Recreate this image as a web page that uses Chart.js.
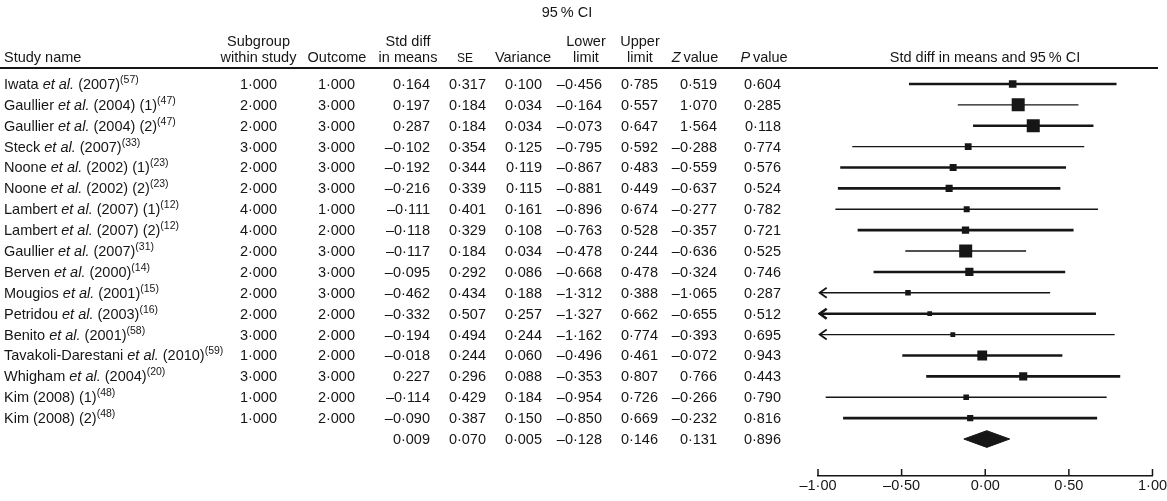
<!DOCTYPE html>
<html>
<head>
<meta charset="utf-8">
<title>Std diff in means and 95% CI</title>
<script src="https://cdn.jsdelivr.net/npm/chart.js@4.4.0/dist/chart.umd.min.js"></script>
<style>
  html, body { margin: 0; padding: 0; background: #fff; }
  #wrap { position: relative; width: 1167px; height: 501px; }
</style>
</head>
<body>
<div id="wrap"><canvas id="forest" width="1167" height="501"></canvas></div>
<script>
// Study rows (top to bottom)
const studyNames = [
    'Iwata et al. (2007)', 'Gaullier et al. (2004) (1)', 'Gaullier et al. (2004) (2)',
    'Steck et al. (2007)', 'Noone et al. (2002) (1)', 'Noone et al. (2002) (2)',
    'Lambert et al. (2007) (1)', 'Lambert et al. (2007) (2)', 'Gaullier et al. (2007)',
    'Berven et al. (2000)', 'Mougios et al. (2001)', 'Petridou et al. (2003)',
    'Benito et al. (2001)', 'Tavakoli-Darestani et al. (2010)', 'Whigham et al. (2004)',
    'Kim (2008) (1)', 'Kim (2008) (2)'
];
const refNumbers = ['57', '47', '47', '33', '23', '23', '12', '12', '31', '14', '15', '16', '58', '59', '20', '48', '48'];
const subgroup = [1, 2, 2, 3, 2, 2, 4, 4, 2, 2, 2, 2, 3, 1, 3, 1, 1];
const outcome = [1, 3, 3, 3, 3, 3, 1, 2, 3, 3, 3, 2, 2, 2, 3, 2, 2];
const stdDiff = [0.164, 0.197, 0.287, -0.102, -0.192, -0.216, -0.111, -0.118, -0.117, -0.095, -0.462, -0.332, -0.194, -0.018, 0.227, -0.114, -0.090];
const stdErr = [0.317, 0.184, 0.184, 0.354, 0.344, 0.339, 0.401, 0.329, 0.184, 0.292, 0.434, 0.507, 0.494, 0.244, 0.296, 0.429, 0.387];
const variance = [0.100, 0.034, 0.034, 0.125, 0.119, 0.115, 0.161, 0.108, 0.034, 0.086, 0.188, 0.257, 0.244, 0.060, 0.088, 0.184, 0.150];
const lowerLimit = [-0.456, -0.164, -0.073, -0.795, -0.867, -0.881, -0.896, -0.763, -0.478, -0.668, -1.312, -1.327, -1.162, -0.496, -0.353, -0.954, -0.850];
const upperLimit = [0.785, 0.557, 0.647, 0.592, 0.483, 0.449, 0.674, 0.528, 0.244, 0.478, 0.388, 0.662, 0.774, 0.461, 0.807, 0.726, 0.669];
const zValue = [0.519, 1.070, 1.564, -0.288, -0.559, -0.637, -0.277, -0.357, -0.636, -0.324, -1.065, -0.655, -0.393, -0.072, 0.766, -0.266, -0.232];
const pValue = [0.604, 0.285, 0.118, 0.774, 0.576, 0.524, 0.782, 0.721, 0.525, 0.746, 0.287, 0.512, 0.695, 0.943, 0.443, 0.790, 0.816];

// Pooled estimate
const pooled = [0.009, 0.070, 0.005, -0.128, 0.146, 0.131, 0.896];

const xTicks = [-1, -0.5, 0, 0.5, 1];

const ink = '#161616';
const FONT = '"Liberation Sans", Arial, Helvetica, sans-serif';
const summaryRow = studyNames.length;
// line weight of each CI line in the original figure
const ciWidths = [2.6, 1.4, 2.6, 1.4, 2.6, 2.6, 1.4, 2.6, 1.4, 2.6, 1.4, 2.6, 1.4, 2.6, 2.6, 1.4, 2.6];

function fmt(v, d) {
    return v.toFixed(d === undefined ? 3 : d).replace('.', '\u00b7').replace('-', '\u2013');
}
function font(size, italic) {
    return (italic ? 'italic ' : '') + size + 'px ' + FONT;
}

const datasets = [];

// point estimates, square size from study weight
datasets.push({
    data: stdDiff.map((v, i) => ({ x: v, y: i })),
    pointStyle: 'rect',
    pointRadius: ctx => 2.4 / Math.sqrt(variance[ctx.dataIndex]) / Math.SQRT2,
    backgroundColor: ink,
    borderWidth: 0,
    order: 0
});

// confidence intervals
stdDiff.forEach((v, i) => {
    datasets.push({
        data: [{ x: Math.max(lowerLimit[i], -0.99), y: i }, { x: Math.min(upperLimit[i], 0.99), y: i }],
        showLine: true,
        pointRadius: 0,
        borderColor: ink,
        borderWidth: ciWidths[i],
        order: 1
    });
    if (lowerLimit[i] < -1) {
        datasets.push({
            data: [{ x: -0.948, y: i - 0.24 }, { x: -0.99, y: i }, { x: -0.948, y: i + 0.24 }],
            showLine: true,
            pointRadius: 0,
            borderColor: ink,
            borderWidth: ciWidths[i] > 2 ? 2.6 : 1.8,
            order: 1
        });
    }
});

// pooled diamond
datasets.push({
    data: [
        { x: pooled[3], y: summaryRow },
        { x: pooled[0], y: summaryRow - 0.4 },
        { x: pooled[4], y: summaryRow },
        { x: pooled[0], y: summaryRow + 0.4 },
        { x: pooled[3], y: summaryRow }
    ],
    showLine: true,
    fill: 'shape',
    pointRadius: 0,
    borderColor: ink,
    borderWidth: 1,
    backgroundColor: ink,
    tension: 0,
    order: 1
});

function drawParts(ctx, x, y, parts, align) {
    let total = 0;
    parts.forEach(p => { ctx.font = p.font; total += ctx.measureText(p.text).width; });
    if (align === 'center') x -= total / 2;
    if (align === 'right') x -= total;
    ctx.textAlign = 'left';
    parts.forEach(p => {
        ctx.font = p.font;
        ctx.fillText(p.text, x, y + (p.dy || 0));
        x += ctx.measureText(p.text).width;
    });
}

function nameParts(name, ref) {
    const parts = [];
    const k = name.indexOf('et al.');
    if (k >= 0) {
        parts.push({ text: name.slice(0, k), font: font(14.5) });
        parts.push({ text: 'et al.', font: font(14.5, true) });
        parts.push({ text: name.slice(k + 6), font: font(14.5) });
    } else {
        parts.push({ text: name, font: font(14.5) });
    }
    parts.push({ text: '(' + ref + ')', font: font(10.5), dy: -6 });
    return parts;
}

const tablePlugin = {
    id: 'forestTable',
    afterDraw(chart) {
        const ctx = chart.ctx;
        const yScale = chart.scales.y;
        const xScale = chart.scales.x;
        ctx.save();
        ctx.fillStyle = ink;
        ctx.strokeStyle = ink;
        ctx.textBaseline = 'alphabetic';

        const h1 = 46, h2 = 62;
        const plain = t => [{ text: t, font: font(14.5) }];
        drawParts(ctx, 567, 17, plain('95\u2009% CI'), 'center');
        drawParts(ctx, 4, h2, plain('Study name'), 'left');
        drawParts(ctx, 258.5, h1, plain('Subgroup'), 'center');
        drawParts(ctx, 258.5, h2, plain('within study'), 'center');
        drawParts(ctx, 337, h2, plain('Outcome'), 'center');
        drawParts(ctx, 408, h1, plain('Std diff'), 'center');
        drawParts(ctx, 408, h2, plain('in means'), 'center');
        drawParts(ctx, 465, h2, [{ text: 'SE', font: font(12) }], 'center');
        drawParts(ctx, 523, h2, plain('Variance'), 'center');
        drawParts(ctx, 586, h1, plain('Lower'), 'center');
        drawParts(ctx, 586, h2, plain('limit'), 'center');
        drawParts(ctx, 640, h1, plain('Upper'), 'center');
        drawParts(ctx, 640, h2, plain('limit'), 'center');
        drawParts(ctx, 695, h2, [{ text: 'Z', font: font(14.5, true) }, { text: '\u2009value', font: font(14.5) }], 'center');
        drawParts(ctx, 764, h2, [{ text: 'P', font: font(14.5, true) }, { text: '\u2009value', font: font(14.5) }], 'center');
        drawParts(ctx, 985, h2, plain('Std diff in means and 95\u2009% CI'), 'center');

        ctx.lineWidth = 2;
        ctx.beginPath();
        ctx.moveTo(0, 68);
        ctx.lineTo(1158, 68);
        ctx.stroke();

        const cols = [277, 355, 430, 486, 542, 602, 658, 717, 781];
        studyNames.forEach((name, i) => {
            const y = yScale.getPixelForValue(i) + 5;
            drawParts(ctx, 4, y, nameParts(name, refNumbers[i]), 'left');
            const vals = [subgroup[i], outcome[i], stdDiff[i], stdErr[i], variance[i],
                lowerLimit[i], upperLimit[i], zValue[i], pValue[i]];
            vals.forEach((v, c) => drawParts(ctx, cols[c], y, plain(fmt(v)), 'right'));
        });
        const ys = yScale.getPixelForValue(summaryRow) + 5;
        pooled.forEach((v, c) => drawParts(ctx, cols[c + 2], ys, plain(fmt(v)), 'right'));

        // upward tick marks on the axis
        ctx.lineWidth = 1.5;
        const b = chart.chartArea.bottom;
        xTicks.forEach(t => {
            const px = xScale.getPixelForValue(t);
            ctx.beginPath();
            ctx.moveTo(px, b - 7);
            ctx.lineTo(px, b);
            ctx.stroke();
        });
        ctx.restore();
    }
};

new Chart(document.getElementById('forest'), {
    type: 'scatter',
    data: { datasets: datasets },
    options: {
        responsive: false,
        animation: false,
        layout: { padding: { left: 818, right: 14.5, top: 73.5, bottom: 5.6 } },
        plugins: { legend: { display: false }, tooltip: { enabled: false } },
        scales: {
            x: {
                type: 'linear',
                min: -1,
                max: 1,
                afterFit: s => { s.paddingLeft = 0; s.paddingRight = 0; },
                afterBuildTicks: s => { s.ticks = xTicks.map(v => ({ value: v })); },
                grid: { drawOnChartArea: false, drawTicks: false },
                border: { display: true, color: ink, width: 1.5 },
                ticks: {
                    padding: 1,
                    color: ink,
                    font: { family: FONT, size: 14.5 },
                    callback: v => fmt(v, 2)
                }
            },
            y: {
                type: 'linear',
                display: false,
                reverse: true,
                min: -0.5,
                max: 18.77
            }
        }
    },
    plugins: [tablePlugin]
});
</script>
</body>
</html>
